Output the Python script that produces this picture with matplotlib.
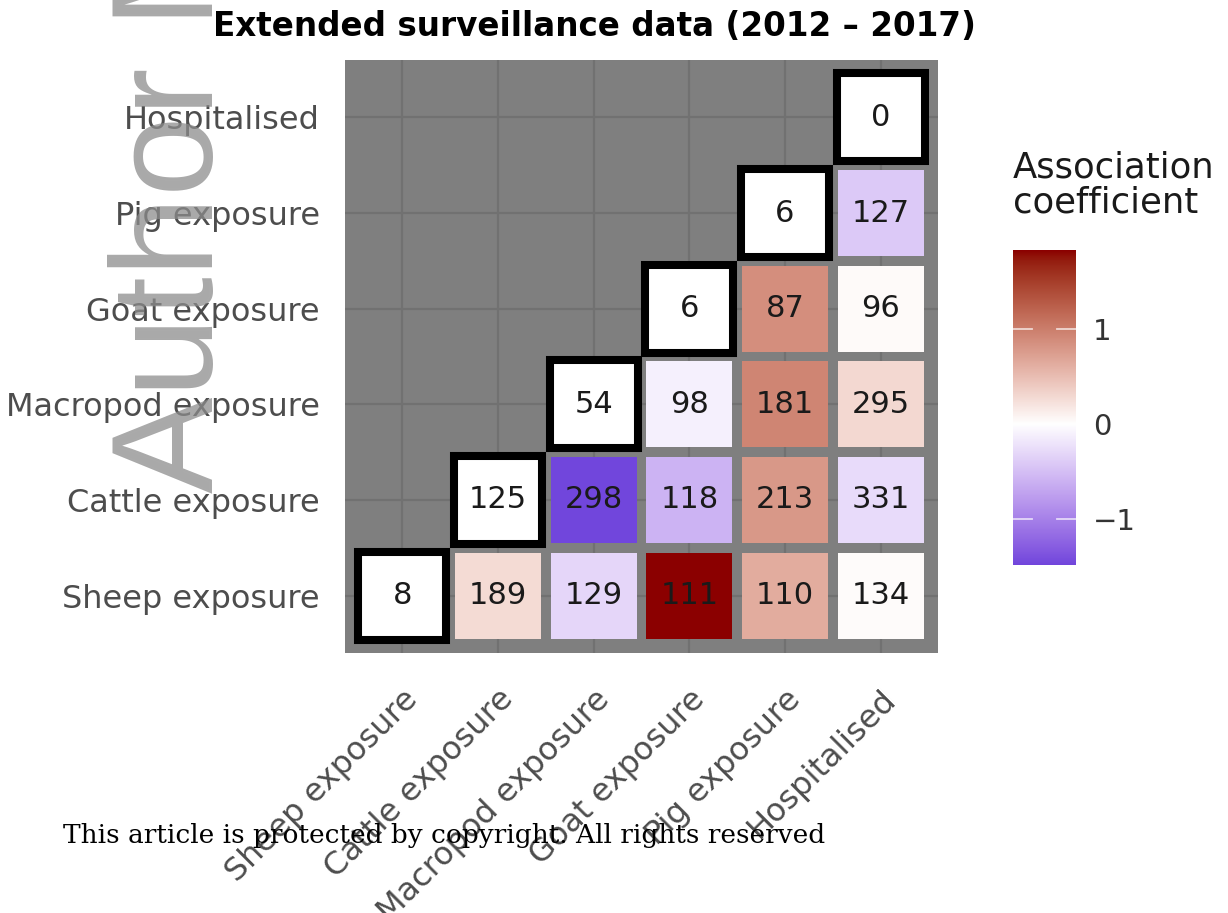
import numpy as np
import matplotlib
matplotlib.use("Agg")
import matplotlib.pyplot as plt
from matplotlib.colors import ListedColormap, Normalize
from matplotlib.patches import Rectangle

# ---- data -------------------------------------------------------------
variables = ["Sheep exposure", "Cattle exposure", "Macropod exposure",
             "Goat exposure", "Pig exposure", "Hospitalised"]

# counts shown in each tile; row i lists pairs (variables[i], variables[j]) for j >= i
counts = [
    [8, 189, 129, 111, 110, 134],
    [125, 298, 118, 213, 331],
    [54, 98, 181, 295],
    [6, 87, 96],
    [6, 127],
    [0],
]

# association coefficients for the off-diagonal pairs (diagonal has none)
coefficients = [
    [None, 0.28, -0.32, 1.84, 0.64, 0.03],
    [None, -1.49, -0.60, 0.80, -0.28],
    [None, -0.12, 0.95, 0.30],
    [None, 0.88, 0.04],
    [None, -0.42],
    [None],
]

colorbar_ticks = [-1, 0, 1]

title = "Extended surveillance data (2012 \u2013 2017)"
legend_title = ["Association", "coefficient"]

# ---- colour scale: low / mid / high blended in CIE Lab ------------------
def _srgb_to_lab(rgb):
    rgb = np.asarray(rgb, float)
    lin = np.where(rgb <= 0.04045, rgb / 12.92, ((rgb + 0.055) / 1.055) ** 2.4)
    m = np.array([[0.4124564, 0.3575761, 0.1804375],
                  [0.2126729, 0.7151522, 0.0721750],
                  [0.0193339, 0.1191920, 0.9503041]])
    xyz = m @ lin / np.array([0.95047, 1.0, 1.08883])
    f = np.where(xyz > (6 / 29) ** 3, np.cbrt(xyz), xyz / (3 * (6 / 29) ** 2) + 4 / 29)
    return np.array([116 * f[1] - 16, 500 * (f[0] - f[1]), 200 * (f[1] - f[2])])


def _lab_to_srgb(lab):
    L, a, b = lab
    fy = (L + 16) / 116
    fx = fy + a / 500
    fz = fy - b / 200
    f = np.array([fx, fy, fz])
    xyz = np.where(f > 6 / 29, f ** 3, 3 * (6 / 29) ** 2 * (f - 4 / 29))
    xyz = xyz * np.array([0.95047, 1.0, 1.08883])
    minv = np.array([[3.2404542, -1.5371385, -0.4985314],
                     [-0.9692660, 1.8760108, 0.0415560],
                     [0.0556434, -0.2040259, 1.0572252]])
    lin = np.clip(minv @ xyz, 0, 1)
    rgb = np.where(lin <= 0.0031308, 12.92 * lin, 1.055 * lin ** (1 / 2.4) - 0.055)
    return np.clip(rgb, 0, 1)


low_lab = _srgb_to_lab([0x3a / 255, 0x14 / 255, 0xd2 / 255])   # deep blue-violet
mid_lab = _srgb_to_lab([1.0, 1.0, 1.0])                        # white
high_lab = _srgb_to_lab([0x8B / 255, 0.0, 0.0])                # darkred
samples = []
for t in np.linspace(0, 1, 512):
    if t < 0.5:
        s = t / 0.5
        lab = low_lab + (mid_lab - low_lab) * s
    else:
        s = (t - 0.5) / 0.5
        lab = mid_lab + (high_lab - mid_lab) * s
    samples.append(_lab_to_srgb(lab))
cmap = ListedColormap(samples)

all_vals = [v for row in coefficients for v in row if v is not None]
vmin, vmax = min(all_vals), max(all_vals)
half = max(abs(vmin), abs(vmax))
norm = Normalize(-half, half)

# ---- figure ------------------------------------------------------------
W, H = 1228, 913
fig = plt.figure(figsize=(W / 100, H / 100), dpi=100)
fig.patch.set_facecolor("white")
FONT = "DejaVu Sans"

ax = fig.add_axes([345 / W, 1 - 653 / H, 593 / W, 593 / H])
ax.set_facecolor("#7f7f7f")
n = len(variables)
ax.set_xlim(-0.6, n - 1 + 0.6)
ax.set_ylim(-0.6, n - 1 + 0.6)
for sp in ax.spines.values():
    sp.set_visible(False)
ax.set_xticks(range(n))
ax.set_yticks(range(n))
ax.grid(True, color="#717171", lw=1.6, zorder=0)
ax.set_axisbelow(True)
ax.tick_params(length=0)
ax.set_yticklabels(variables, fontsize=23, color="#4d4d4d", family=FONT)
ax.tick_params(axis="y", pad=18)
ax.set_xticklabels(variables, fontsize=23, color="#4d4d4d", family=FONT,
                   rotation=45, ha="right", va="top", rotation_mode="anchor")
ax.tick_params(axis="x", pad=22)

for i in range(n):
    for k, (cnt, coef) in enumerate(zip(counts[i], coefficients[i])):
        j = i + k
        if coef is None:
            size = 0.92
            ax.add_patch(Rectangle((j - size / 2, i - size / 2), size, size,
                                   facecolor="white", edgecolor="black",
                                   lw=5.8, zorder=3, joinstyle="miter"))
        else:
            size = 0.9
            ax.add_patch(Rectangle((j - size / 2, i - size / 2), size, size,
                                   facecolor=cmap(norm(coef)), edgecolor="none",
                                   zorder=2))
        ax.text(j, i, str(cnt), ha="center", va="center", fontsize=22,
                color="#1a1a1a", family=FONT, zorder=4)

# ---- colour bar --------------------------------------------------------
cax = fig.add_axes([1013 / W, 1 - 565 / H, 63 / W, 315 / H])
grad = np.linspace(vmin, vmax, 400).reshape(-1, 1)
cax.imshow(grad, cmap=cmap, norm=norm, aspect="auto", origin="lower",
           extent=[0, 1, vmin, vmax])
cax.set_xlim(0, 1)
cax.set_ylim(vmin, vmax)
for sp in cax.spines.values():
    sp.set_visible(False)
cax.set_xticks([])
cax.yaxis.tick_right()
cax.set_yticks(colorbar_ticks)
cax.set_yticklabels(["\u22121" if t < 0 else str(t) for t in colorbar_ticks],
                    fontsize=21, color="#333333", family=FONT)
cax.tick_params(axis="y", length=0, pad=12)
for t in colorbar_ticks:
    cax.plot([0, 0.3], [t, t], color="white", lw=1.3, alpha=0.7)
    cax.plot([0.7, 1], [t, t], color="white", lw=1.3, alpha=0.7)

fig.text(1013 / W, 1 - 177 / H, legend_title[0], fontsize=25.5, color="#1a1a1a",
         family=FONT, ha="left", va="baseline")
fig.text(1013 / W, 1 - 212 / H, legend_title[1], fontsize=25.5, color="#1a1a1a",
         family=FONT, ha="left", va="baseline")

# ---- title -------------------------------------------------------------
fig.text(594 / W, 1 - 36 / H, title, fontsize=23.5, fontweight="bold",
         family=FONT, ha="center", va="baseline", color="black")

# ---- manuscript watermark and notice -----------------------------------
fig.text(213 / W, 1 - 493 / H, "Author Manuscript", fontsize=104,
         family="Liberation Sans", color="#8c8c8c", alpha=0.75,
         rotation=90, rotation_mode="anchor", ha="left", va="baseline",
         zorder=10)
fig.text(63 / W, 1 - 843 / H,
         "This article is protected by copyright. All rights reserved",
         fontsize=19, family="DejaVu Serif", color="black",
         ha="left", va="baseline", zorder=11)

fig.savefig("out.png", dpi=100)
